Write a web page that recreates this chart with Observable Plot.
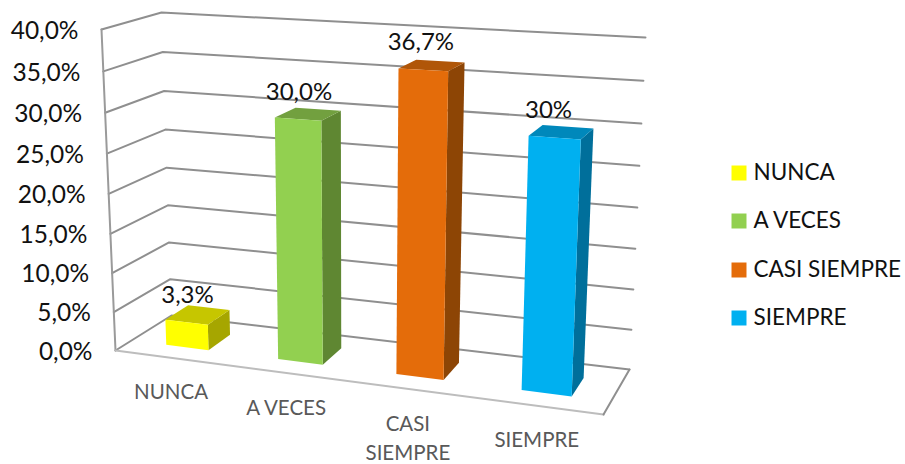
<!DOCTYPE html>
<html>
<head>
<meta charset="utf-8">
<style>
html,body{margin:0;padding:0;background:#fff}
svg{display:block}
</style>
<script src="https://cdn.jsdelivr.net/npm/d3@7"></script>
<script src="https://cdn.jsdelivr.net/npm/@observablehq/plot@0.6"></script>
</head>
<body>
<div id="chart"></div>
<script>
// ---- data ----
const categories = ["NUNCA", "A VECES", "CASI SIEMPRE", "SIEMPRE"];
const values = [3.3, 30.0, 36.7, 30.0];
const valueLabels = ["3,3%", "30,0%", "36,7%", "30%"];
const axisTicks = [0, 5, 10, 15, 20, 25, 30, 35, 40];
const axisLabels = ["0,0%", "5,0%", "10,0%", "15,0%", "20,0%", "25,0%", "30,0%", "35,0%", "40,0%"];
const categoryLines = [["NUNCA"], ["A VECES"], ["CASI", "SIEMPRE"], ["SIEMPRE"]];
const frontColors = ["#ffff00", "#92d050", "#e46c0a", "#00b0f0"];
const topColors = ["#c6c600", "#72a03f", "#b05608", "#0088bb"];
const sideColors = ["#a6a600", "#5f8732", "#8d4505", "#006f9b"];

// ---- 3-D box seen in perspective: corners of the chart's cube on screen ----
const maxValue = 40;
const cube = {
  flb: [115, 350], frb: [603, 414], blb: [171, 315], brb: [629, 369],
  flt: [101, 29],  frt: [617, 57],  blt: [161, 12],  brt: [645, 37]
};
const warp = (f, r) => f / (r * (1 - f) + f);
const mix = (a, b, t) => [a[0] + (b[0] - a[0]) * t, a[1] + (b[1] - a[1]) * t];
// u: across the categories (0..1), v: value, d: depth (0 front .. 1 back)
function project(u, v, d) {
  const t = warp(u, 1.12), f = warp(v / maxValue, 1.05);
  const bottom = mix(mix(cube.flb, cube.blb, d), mix(cube.frb, cube.brb, d), t);
  const top = mix(mix(cube.flt, cube.blt, d), mix(cube.frt, cube.brt, d), t);
  return mix(bottom, top, f);
}
const pt = (u, v, d, extra = {}) => {
  const [x, y] = project(u, v, d);
  return {x, y, ...extra};
};

// ---- walls and floor ----
const grid = axisTicks.flatMap((v) => [
  pt(0, v, 0, {z: v}), pt(0, v, 1, {z: v}), pt(1, v, 1, {z: v})
]);
const leftEdge = [pt(0, 0, 0), pt(0, maxValue, 0)];
const floorEdge = [pt(0, 0, 0), pt(1, 0, 0)];
const floorSide = [pt(1, 0, 0), pt(1, 0, 1)];

// ---- bars ----
const barHalf = 0.048, dFront = 0.29, dBack = 0.71, uShift = 0.003;
const center = (i) => (i + 0.5) / categories.length + uShift;
const faces = values.flatMap((v, i) => {
  const a = center(i) - barHalf, b = center(i) + barHalf;
  const face = (name, fill, corners) =>
    corners.map(([u, w, d]) => pt(u, w, d, {face: `${i}-${name}`, fill}));
  return [
    ...face("side", sideColors[i], [[b, 0, dFront], [b, 0, dBack], [b, v, dBack], [b, v, dFront]]),
    ...face("top", topColors[i], [[a, v, dFront], [a, v, dBack], [b, v, dBack], [b, v, dFront]]),
    ...face("front", frontColors[i], [[a, 0, dFront], [b, 0, dFront], [b, v, dFront], [a, v, dFront]])
  ];
});

const barLabels = values.map((v, i) => pt(center(i) - 0.0065 * Math.max(0, i - 1), v, dFront, {label: valueLabels[i]}));
const tickText = axisTicks.map((v, i) => pt(0, v, 0, {label: axisLabels[i]}));
const catText = categoryLines.flatMap((lines, i) =>
  lines.map((label, k) => {
    const p = pt(center(i), 0, 0, {label});
    return {...p, y: p.y + 35 + k * 29};
  })
);
const legendRows = categories.map((label, i) => ({
  label, fill: frontColors[i], y: [172.5, 220.5, 269.5, 317.5][i]
}));

const font = "Lato, Carlito, sans-serif";
const chart = Plot.plot({
  width: 905,
  height: 464,
  margin: 0,
  style: {background: "#fff", fontFamily: font},
  x: {type: "linear", domain: [0, 905], range: [0, 905], axis: null},
  y: {type: "linear", domain: [0, 464], range: [0, 464], axis: null},
  color: {type: "identity"},
  marks: [
    Plot.line(grid, {x: "x", y: "y", z: "z", stroke: "#8f8f8f", strokeWidth: 2}),
    Plot.line(leftEdge, {x: "x", y: "y", stroke: "#9a9a9a", strokeWidth: 2}),
    Plot.line(floorEdge, {x: "x", y: "y", stroke: "#bdbdbd", strokeWidth: 2}),
    Plot.line(floorSide, {x: "x", y: "y", stroke: "#8f8f8f", strokeWidth: 2}),
    Plot.line(faces, {x: "x", y: "y", z: "face", fill: "fill", stroke: "none"}),
    Plot.text(barLabels, {x: "x", y: "y", text: "label", dx: 1, dy: -27, fontSize: 24, fill: "#111"}),
    Plot.text(tickText, {x: "x", y: "y", text: "label", dx: -23, dy: 1.5, textAnchor: "end", fontSize: 24.5, fill: "#111"}),
    Plot.text(catText, {x: "x", y: "y", text: "label", dx: -1, fontSize: 20.5, fill: "#595959"}),
    Plot.dot(legendRows, {x: () => 738.5, y: "y", symbol: "square", r: 8.46, fill: "fill", stroke: "none"}),
    Plot.text(legendRows, {x: () => 753, y: "y", text: "label", textAnchor: "start", fontSize: 22.5, fill: "#111"})
  ]
});
document.getElementById("chart").append(chart);
</script>
</body>
</html>
